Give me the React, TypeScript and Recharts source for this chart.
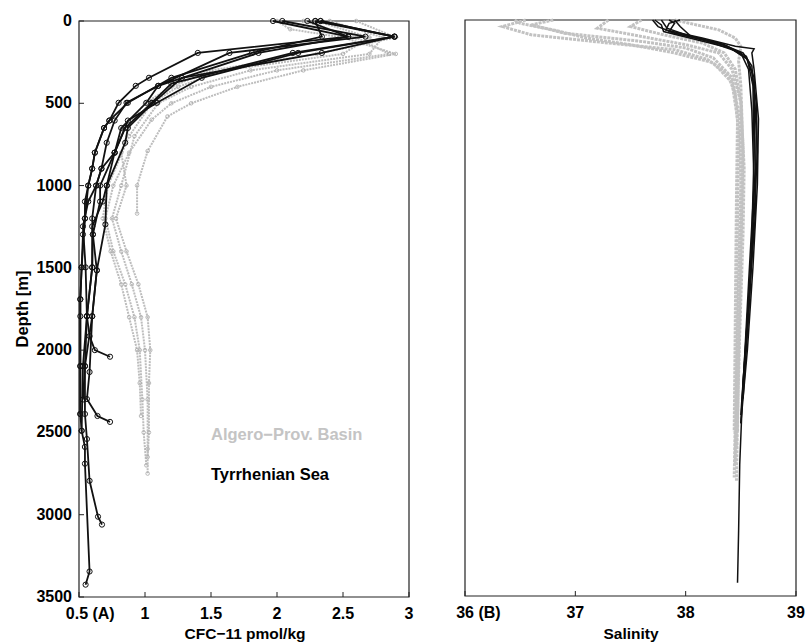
import React from "react";
import { ScatterChart, Scatter, XAxis, YAxis, ReferenceArea } from "recharts";

// depth [m], value pairs
const depthTicks = [0, 500, 1000, 1500, 2000, 2500, 3000, 3500];
const cfcTicks = [0.5, 1, 1.5, 2, 2.5, 3];
const salTicks = [36, 37, 38, 39];
const cfcFirstLabel = "0.5 (A)";
const salFirstLabel = "36 (B)";

// Tyrrhenian Sea, CFC-11
const tyr1 = [[0, 1.97], [95, 2.54], [194, 1.4], [345, 1.03], [394, 0.93], [497, 0.8], [605, 0.73], [650, 0.69], [800, 0.62], [897, 0.6], [1000, 0.57], [1097, 0.545], [1200, 0.545], [1297, 0.53], [1497, 0.52], [1691, 0.51], [1794, 0.51], [2097, 0.51], [2388, 0.51], [2490, 0.52], [2588, 0.545], [2690, 0.545], [3345, 0.58], [3425, 0.55]];
const tyr2 = [[0, 2.04], [95, 2.67], [194, 1.64], [394, 1.1], [497, 0.86], [605, 0.77], [740, 0.71], [897, 0.67], [1000, 0.63], [1097, 0.57], [1248, 0.53], [1497, 0.55], [1794, 0.56], [1915, 0.58], [2000, 0.62], [2040, 0.735]];
const tyr3 = [[0, 2.33], [95, 2.89], [194, 2.16], [345, 1.43], [497, 1.09], [605, 0.87], [800, 0.77], [1000, 0.71], [1236, 0.7], [1515, 0.635], [1794, 0.6], [2133, 0.58], [2297, 0.56], [2400, 0.64], [2436, 0.735]];
const tyr4 = [[0, 2.29], [95, 2.89], [194, 2.34], [345, 1.28], [497, 1.06], [650, 0.87], [740, 0.85], [1000, 0.71], [1097, 0.68], [1248, 0.6], [1497, 0.6], [1794, 0.56], [2097, 0.545], [2388, 0.545], [2540, 0.56], [2794, 0.58], [3012, 0.644], [3060, 0.674]];
const tyr5 = [[0, 2.23], [95, 2.54], [194, 1.86], [394, 1.1], [497, 1.01], [650, 0.82], [800, 0.77], [897, 0.67], [1000, 0.63], [1200, 0.6], [1297, 0.605], [1497, 0.6], [1794, 0.56], [2097, 0.53], [2490, 0.52]];
const tyr6 = [[0, 2.33], [95, 2.89], [194, 2.12], [380, 1.2], [497, 1.05], [650, 0.85], [800, 0.77], [1000, 0.66], [1097, 0.66], [1297, 0.605], [1515, 0.635], [1794, 0.6], [2097, 0.545], [2300, 0.53]];
const tyr7 = [[0, 2.29], [95, 2.34], [194, 1.81], [345, 1.2], [497, 0.87], [605, 0.73], [650, 0.69], [800, 0.62], [897, 0.6], [1000, 0.57], [1200, 0.545], [1497, 0.52], [1691, 0.51], [2097, 0.51], [2388, 0.51]];

// Algero-Provencal Basin, CFC-11
const alg1 = [[0, 2.0], [50, 2.1], [100, 2.5], [200, 2.9], [300, 2.2], [400, 1.7], [500, 1.35], [580, 1.17], [790, 1.02], [1000, 0.94], [1170, 0.94]];
const alg2 = [[0, 2.2], [100, 2.6], [200, 2.85], [300, 2.0], [400, 1.5], [500, 1.2], [600, 1.05], [800, 0.88], [1000, 0.76], [1200, 0.7], [1400, 0.76], [1600, 0.85], [1800, 0.92], [2000, 0.96], [2300, 0.98], [2500, 0.99], [2700, 1.01]];
const alg3 = [[0, 2.4], [100, 2.8], [200, 2.7], [300, 1.8], [400, 1.35], [500, 1.1], [700, 0.92], [1000, 0.82], [1200, 0.75], [1400, 0.82], [1600, 0.9], [1800, 0.97], [2000, 1.0], [2300, 1.02], [2600, 1.02], [2750, 1.02]];
const alg4 = [[0, 2.3], [100, 2.7], [200, 2.5], [300, 1.6], [400, 1.25], [500, 1.05], [700, 0.88], [1000, 0.72], [1200, 0.68], [1400, 0.74], [1600, 0.82], [1800, 0.88], [2000, 0.94], [2200, 0.96], [2400, 0.97]];
const alg5 = [[0, 2.6], [100, 2.9], [200, 2.3], [300, 1.5], [400, 1.2], [500, 1.0], [600, 0.9], [800, 0.82], [1000, 0.86], [1200, 0.78], [1400, 0.86], [1600, 0.95], [1800, 1.02], [2000, 1.04], [2200, 1.03], [2500, 1.03], [2650, 1.02]];

// Tyrrhenian Sea, salinity
const tyrS1 = [[0, 37.72], [30, 37.78], [70, 37.8], [120, 38.1], [170, 38.4], [230, 38.55], [320, 38.6], [500, 38.64], [800, 38.65], [1200, 38.62], [1700, 38.58], [2200, 38.52], [2700, 38.49], [3100, 38.48], [3420, 38.47]];
const tyrS2 = [[0, 37.95], [20, 37.85], [60, 37.82], [110, 38.15], [160, 38.45], [175, 38.62], [200, 38.6], [300, 38.62], [600, 38.66], [1000, 38.65], [1500, 38.61], [2000, 38.56], [2450, 38.5]];
const tyrS3 = [[0, 37.7], [40, 37.75], [80, 37.9], [140, 38.3], [200, 38.52], [280, 38.6], [450, 38.62], [900, 38.63], [1400, 38.6], [1900, 38.55], [2400, 38.5]];
const tyrS4 = [[0, 37.85], [20, 37.9], [70, 37.85], [130, 38.2], [200, 38.5], [300, 38.57], [550, 38.6], [1000, 38.62], [1600, 38.57], [2100, 38.53], [2450, 38.5]];
const tyrS5 = [[0, 37.78], [50, 37.83], [90, 38.0], [150, 38.35], [220, 38.55], [350, 38.62], [700, 38.64], [1200, 38.63], [1800, 38.56], [2350, 38.51]];
const tyrS6 = [[0, 37.9], [40, 37.95], [100, 38.05], [160, 38.38], [240, 38.56], [400, 38.61], [800, 38.62], [1300, 38.6], [1800, 38.57], [2300, 38.52]];

// Algero-Provencal Basin, salinity
const algS1 = [[0, 36.55], [40, 36.34], [90, 36.6], [140, 37.3], [180, 37.9], [240, 38.2], [330, 38.38], [450, 38.45], [700, 38.48], [1200, 38.47], [1800, 38.46], [2400, 38.45], [2780, 38.44]];
const algS2 = [[0, 36.8], [30, 36.6], [80, 36.9], [130, 37.6], [170, 38.0], [230, 38.25], [350, 38.42], [600, 38.49], [1000, 38.5], [1600, 38.48], [2200, 38.46], [2700, 38.45]];
const algS3 = [[0, 37.3], [50, 37.2], [100, 37.6], [150, 38.0], [200, 38.3], [300, 38.42], [500, 38.5], [1000, 38.51], [1500, 38.49], [2000, 38.47], [2600, 38.46]];
const algS4 = [[0, 37.9], [30, 38.1], [60, 38.3], [110, 38.45], [160, 38.5], [250, 38.48], [400, 38.5], [800, 38.52], [1400, 38.5], [2000, 38.48], [2500, 38.47]];
const algS5 = [[0, 36.45], [20, 36.5], [60, 36.8], [110, 37.1], [150, 37.5], [200, 37.9], [260, 38.25], [380, 38.42], [600, 38.47], [1100, 38.46], [1800, 38.45], [2500, 38.44]];
const algS6 = [[0, 37.6], [40, 37.5], [90, 37.8], [140, 38.15], [200, 38.35], [300, 38.45], [500, 38.5], [900, 38.53], [1300, 38.52], [1900, 38.49], [2400, 38.47], [2800, 38.46]];

const tyrCfc = [tyr1, tyr2, tyr3, tyr4, tyr5, tyr6, tyr7];
const algCfc = [alg1, alg2, alg3, alg4, alg5];
const tyrSal = [tyrS1, tyrS2, tyrS3, tyrS4, tyrS5, tyrS6];
const algSal = [algS1, algS2, algS3, algS4, algS5, algS6];

const toPts = (rows: number[][]) => rows.map(([d, v]) => ({ x: v, y: d }));

const FONT = "'Liberation Sans', Arial, Helvetica, sans-serif";
const AXIS = "#222";

const blackDot = (p: any) => <circle cx={p.cx} cy={p.cy} r={2.6} fill="none" stroke="#111" strokeWidth={1} />;
const greyDot = (p: any) => <circle cx={p.cx} cy={p.cy} r={1.8} fill="none" stroke="#aaa" strokeWidth={0.8} />;
const noDot = () => <g />;

const LeftTick = (props: any) => {
  const { x, y, payload } = props;
  return (
    <g>
      <line x1={x} y1={y} x2={x + 5} y2={y} stroke={AXIS} />
      <text x={x - 7} y={y} dy={5} textAnchor="end" fontFamily={FONT} fontWeight="bold" fontSize={16} fill="#000">
        {payload.value}
      </text>
    </g>
  );
};
const RightTick = (props: any) => <line x1={props.x} y1={props.y} x2={props.x - 5} y2={props.y} stroke={AXIS} />;
const TopTick = (props: any) => <line x1={props.x} y1={props.y} x2={props.x} y2={props.y + 5} stroke={AXIS} />;

const makeBottomTick = (first: string, firstNum: string) => (props: any) => {
  const { x, y, payload, index } = props;
  return (
    <g>
      <line x1={x} y1={y} x2={x} y2={y - 5} stroke={AXIS} />
      <text
        x={index === 0 ? x - firstNum.length * 4.4 : x}
        y={y + 22}
        textAnchor={index === 0 ? "start" : "middle"}
        fontFamily={FONT}
        fontWeight="bold"
        fontSize={16}
        fill="#000"
      >
        {index === 0 ? first : payload.value}
      </text>
    </g>
  );
};
const CfcTick = makeBottomTick(cfcFirstLabel, "0.5");
const SalTick = makeBottomTick(salFirstLabel, "36");

const label = (extra: React.CSSProperties): React.CSSProperties => ({
  position: "absolute",
  fontFamily: FONT,
  fontWeight: "bold",
  fontSize: 15.5,
  whiteSpace: "nowrap",
  lineHeight: 1,
  ...extra,
});

const axisCommon = { axisLine: false, tickLine: false, tickSize: 0, tickMargin: 0, interval: 0 as const };

export default function App() {
  return (
    <div style={{ position: "absolute", left: 0, top: 0, width: 806, height: 643, background: "#fff" }}>
      <div style={{ position: "absolute", left: 0, top: 0 }}>
        <ScatterChart width={420} height={643} margin={{ top: 1, left: 39, right: 1, bottom: 16 }}>
          <XAxis type="number" dataKey="x" domain={[0.5, 3]} ticks={cfcTicks} height={30} {...axisCommon} tick={CfcTick} />
          <XAxis xAxisId="top" orientation="top" type="number" dataKey="x" domain={[0.5, 3]} ticks={cfcTicks} height={20} {...axisCommon} tick={TopTick} />
          <YAxis type="number" dataKey="y" domain={[0, 3500]} reversed ticks={depthTicks} width={40} {...axisCommon} tick={LeftTick} />
          <YAxis yAxisId="right" orientation="right" type="number" dataKey="y" domain={[0, 3500]} reversed ticks={depthTicks} width={10} {...axisCommon} tick={RightTick} />
          {algCfc.map((p, i) => (
            <Scatter key={"a" + i} data={toPts(p)} line={{ stroke: "#bdbdbd", strokeWidth: 2, strokeDasharray: "2 1" }} shape={greyDot} isAnimationActive={false} legendType="none" />
          ))}
          {tyrCfc.map((p, i) => (
            <Scatter key={"t" + i} data={toPts(p)} line={{ stroke: "#111", strokeWidth: 1.8 }} shape={blackDot} isAnimationActive={false} legendType="none" />
          ))}
          <ReferenceArea x1={0.5} x2={3} y1={0} y2={3500} fill="none" fillOpacity={0} stroke={AXIS} strokeWidth={1.2} />
        </ScatterChart>
      </div>
      <div style={{ position: "absolute", left: 420, top: 0 }}>
        <ScatterChart width={386} height={643} margin={{ top: 20, left: 5, right: 10, bottom: 17 }}>
          <XAxis type="number" dataKey="x" domain={[36, 39]} ticks={salTicks} height={30} {...axisCommon} tick={SalTick} />
          <YAxis type="number" dataKey="y" domain={[0, 3500]} reversed ticks={depthTicks} width={40} axisLine={false} tickLine={false} tick={false} />
          {algSal.map((p, i) => (
            <Scatter key={"a" + i} data={toPts(p)} line={{ stroke: "#c2c2c2", strokeWidth: 3, strokeDasharray: "3 1" }} shape={noDot} isAnimationActive={false} legendType="none" />
          ))}
          {tyrSal.map((p, i) => (
            <Scatter key={"t" + i} data={toPts(p)} line={{ stroke: "#111", strokeWidth: 1.5 }} shape={noDot} isAnimationActive={false} legendType="none" />
          ))}
          <ReferenceArea x1={36} x2={39} y1={0} y2={3500} fill="none" fillOpacity={0} stroke={AXIS} strokeWidth={1.2} />
        </ScatterChart>
      </div>
      <div style={label({ left: 22, top: 309, fontSize: 16.5, transform: "translate(-50%, -50%) rotate(-90deg)" })}>Depth [m]</div>
      <div style={label({ left: 245, top: 634, transform: "translate(-50%, -50%)" })}>CFC−11 pmol/kg</div>
      <div style={label({ left: 631, top: 634, transform: "translate(-50%, -50%)" })}>Salinity</div>
      <div style={label({ left: 211, top: 434, transform: "translateY(-50%)", fontSize: 16.5, color: "#c4c4c4" })}>Algero−Prov. Basin</div>
      <div style={label({ left: 211, top: 474, transform: "translateY(-50%)", fontSize: 16.5, color: "#000" })}>Tyrrhenian Sea</div>
    </div>
  );
}
